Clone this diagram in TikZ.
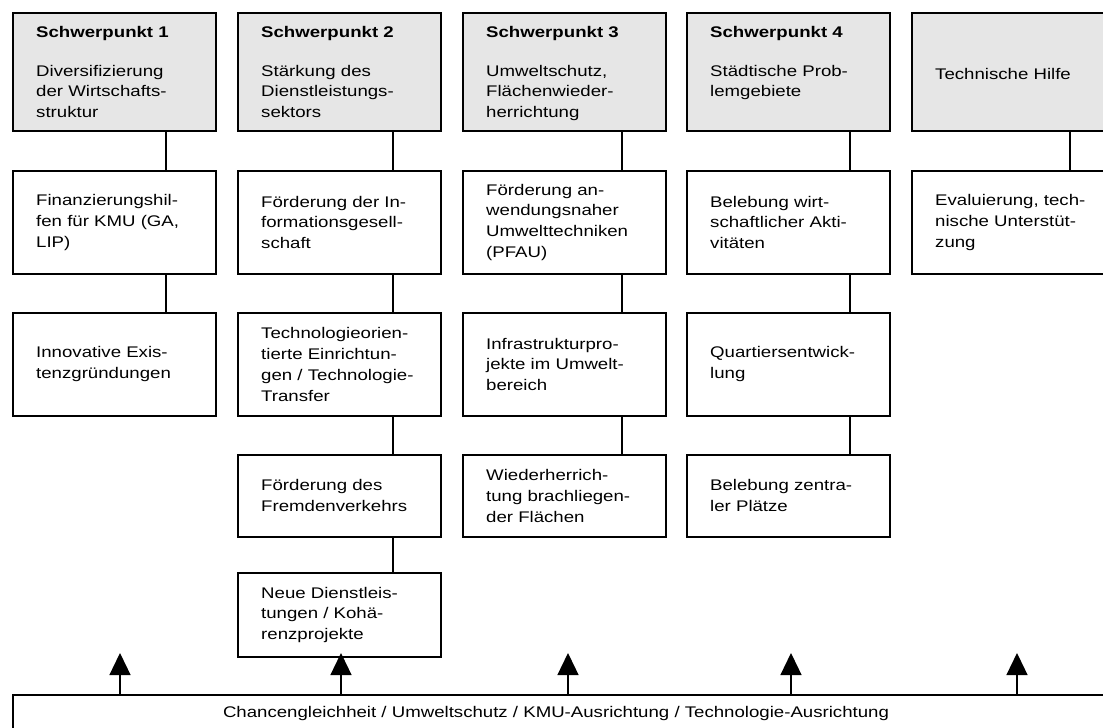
\documentclass[tikz,border=0pt]{standalone}
\usepackage{fontspec}
\setmainfont{Liberation Sans}[FakeStretch=1.21]
\usetikzlibrary{arrows.meta}
\definecolor{headgray}{RGB}{230,230,230}
\begin{document}
\begin{tikzpicture}[x=1pt,y=-1pt,
  box/.style={draw, line width=1.7pt, anchor=north west, minimum width=203pt, inner sep=0pt},
  head/.style={box, fill=headgray, minimum height=118pt},
  rowtwo/.style={box, minimum height=103pt},
  rowthree/.style={box, minimum height=103pt},
  rowfour/.style={box, minimum height=82pt},
  rowfive/.style={box, minimum height=84pt},
  txt/.style={anchor=west, align=left, inner sep=0pt, font=\fontsize{15.4pt}{20.8pt}\selectfont},
  link/.style={line width=1.2pt},
  uparrow/.style={line width=1.3pt, -{Triangle[width=21pt,length=22pt]}}
]
\useasboundingbox (0,0) rectangle (1103,728);
\clip (0,0) rectangle (1103,728);
\newcommand{\boxtext}[2]{\node[txt] (#1t) at ([xshift=24pt]#1.west) {#2};}
\newcommand{\headtext}[2]{\node[txt, anchor=north west] (#1t) at ([xshift=24pt, yshift=-14pt]#1.north west) {#2};}

% column 1
\node[head] (h1) at (12,12) {};
\node[rowtwo] (a1) at (12,170) {};
\node[rowthree] (b1) at (12,312) {};
% column 2
\node[head] (h2) at (237,12) {};
\node[rowtwo] (a2) at (237,170) {};
\node[rowthree] (b2) at (237,312) {};
\node[rowfour] (c2) at (237,454) {};
\node[rowfive] (d2) at (237,572) {};
% column 3
\node[head] (h3) at (462,12) {};
\node[rowtwo] (a3) at (462,170) {};
\node[rowthree] (b3) at (462,312) {};
\node[rowfour] (c3) at (462,454) {};
% column 4
\node[head] (h4) at (686,12) {};
\node[rowtwo] (a4) at (686,170) {};
\node[rowthree] (b4) at (686,312) {};
\node[rowfour] (c4) at (686,454) {};
% column 5
\node[head] (h5) at (911,12) {};
\node[rowtwo] (a5) at (911,170) {};
% bottom
\node[box, minimum width=1103pt, minimum height=60pt] (bot) at (12,694) {};
\node[font=\fontsize{15.4pt}{20.8pt}\selectfont, inner sep=0pt] (bott) at (556,714) {Chancengleichheit / Umweltschutz / KMU-Ausrichtung / Technologie-Ausrichtung};

\headtext{h1}{\textbf{Schwerpunkt 1}\\[18pt]Diversifizierung\\der Wirtschafts-\\struktur}
\boxtext{a1}{Finanzierungshil-\\fen für KMU (GA,\\LIP)}
\boxtext{b1}{Innovative Exis-\\tenzgründungen}

\headtext{h2}{\textbf{Schwerpunkt 2}\\[18pt]Stärkung des\\Dienstleistungs-\\sektors}
\boxtext{a2}{Förderung der In-\\formationsgesell-\\schaft}
\boxtext{b2}{Technologieorien-\\tierte Einrichtun-\\gen / Technologie-\\Transfer}
\boxtext{c2}{Förderung des\\Fremdenverkehrs}
\boxtext{d2}{Neue Dienstleis-\\tungen / Kohä-\\renzprojekte}

\headtext{h3}{\textbf{Schwerpunkt 3}\\[18pt]Umweltschutz,\\Flächenwieder-\\herrichtung}
\boxtext{a3}{Förderung an-\\wendungsnaher\\Umwelttechniken\\(PFAU)}
\boxtext{b3}{Infrastrukturpro-\\jekte im Umwelt-\\bereich}
\boxtext{c3}{Wiederherrich-\\tung brachliegen-\\der Flächen}

\headtext{h4}{\textbf{Schwerpunkt 4}\\[18pt]Städtische Prob-\\lemgebiete}
\boxtext{a4}{Belebung wirt-\\schaftlicher Akti-\\vitäten}
\boxtext{b4}{Quartiersentwick-\\lung}
\boxtext{c4}{Belebung zentra-\\ler Plätze}

\node[txt, anchor=north west] (h5t) at ([xshift=24pt, yshift=-56pt]h5.north west) {Technische Hilfe};
\boxtext{a5}{Evaluierung, tech-\\nische Unterstüt-\\zung}

% connector x positions
\coordinate (k1) at (166,0);
\coordinate (k2) at (393,0);
\coordinate (k3) at (622,0);
\coordinate (k4) at (850,0);
\coordinate (k5) at (1070,0);

\draw[link] (h1.south -| k1) -- (a1.north -| k1);
\draw[link] (a1.south -| k1) -- (b1.north -| k1);
\draw[link] (h2.south -| k2) -- (a2.north -| k2);
\draw[link] (a2.south -| k2) -- (b2.north -| k2);
\draw[link] (b2.south -| k2) -- (c2.north -| k2);
\draw[link] (c2.south -| k2) -- (d2.north -| k2);
\draw[link] (h3.south -| k3) -- (a3.north -| k3);
\draw[link] (a3.south -| k3) -- (b3.north -| k3);
\draw[link] (b3.south -| k3) -- (c3.north -| k3);
\draw[link] (h4.south -| k4) -- (a4.north -| k4);
\draw[link] (a4.south -| k4) -- (b4.north -| k4);
\draw[link] (b4.south -| k4) -- (c4.north -| k4);
\draw[link] (h5.south -| k5) -- (a5.north -| k5);

% arrows
\coordinate (t1) at (120,653);
\coordinate (t2) at (341,653);
\coordinate (t3) at (568,653);
\coordinate (t4) at (791,653);
\coordinate (t5) at (1017,653);
\foreach \t in {t1,t2,t3,t4,t5}{
  \draw[uparrow] (bot.north -| \t) -- (\t);
}
\end{tikzpicture}
\end{document}
